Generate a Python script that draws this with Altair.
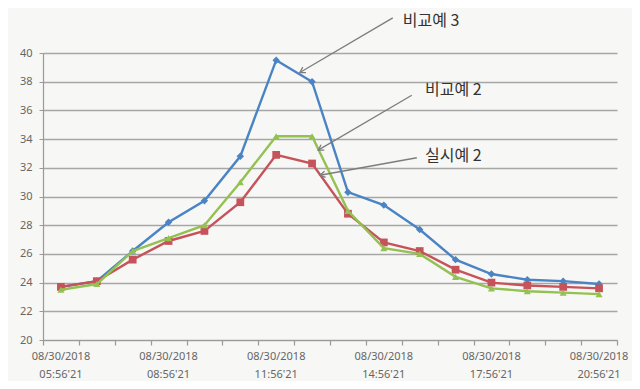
import math
import altair as alt
import pandas as pd

# ---------------- data ----------------
hour_index = list(range(16))  # hourly samples 05:56'21 ... 20:56'21

series_names = ["비교예 3", "실시예 2", "비교예 2"]
blue_vals = [23.7, 24.1, 26.2, 28.2, 29.7, 32.8, 39.5, 38.0, 30.3, 29.4, 27.7, 25.6, 24.6, 24.2, 24.1, 23.9]
red_vals = [23.7, 24.1, 25.6, 26.9, 27.6, 29.6, 32.9, 32.3, 28.8, 26.8, 26.2, 24.9, 24.0, 23.8, 23.7, 23.6]
green_vals = [23.5, 23.9, 26.2, 27.1, 28.0, 31.0, 34.2, 34.2, 29.0, 26.4, 26.0, 24.4, 23.6, 23.4, 23.3, 23.2]

label_index = [0, 3, 6, 9, 12, 15]
label_text = [
    "08/30/2018\n05:56'21",
    "08/30/2018\n08:56'21",
    "08/30/2018\n11:56'21",
    "08/30/2018\n14:56'21",
    "08/30/2018\n17:56'21",
    "08/30/2018\n20:56'21",
]
y_ticks = [20, 22, 24, 26, 28, 30, 32, 34, 36, 38, 40]

ann_text = ["비교예 3", "비교예 2", "실시예 2"]
ann_tx = [9.53, 10.15, 10.15]
ann_ty = [42.2, 37.4, 32.8]
arr_x0 = [9.25, 9.78, 9.92]
arr_y0 = [42.45, 37.06, 32.70]
arr_x1 = [6.66, 7.17, 7.22]
arr_y1 = [38.64, 33.23, 31.48]

# ---------------- layout / style ----------------
W, H = 574, 287
XDOM = [-0.5, 15.5]
YDOM = [20, 40]
colors = ["#4a84c4", "#c6525a", "#93c152"]
shapes = ["diamond", "square", "triangle-up"]
sizes = [55, 60, 50]

xscale = alt.Scale(domain=XDOM, nice=False, zero=False)
yscale = alt.Scale(domain=YDOM, nice=False, zero=False)

xaxis = alt.Axis(values=[k - 0.5 for k in range(17)], labels=False, title=None,
                 grid=False, domainColor="#9a9a9a", domainWidth=1.2,
                 tickColor="#9a9a9a", tickSize=5, tickWidth=1.2)
yaxis = alt.Axis(values=y_ticks, title=None, grid=True, labelOverlap=False,
                 gridColor="#a6a6a6", gridWidth=1.4, domainColor="#9a9a9a",
                 domainWidth=1.2, tickColor="#9a9a9a", tickSize=4,
                 labelPadding=7, labelFontSize=11, labelColor="#666666",
                 labelFont="Noto Sans")


def X(field):
    return alt.X(field, scale=xscale, axis=xaxis)


def Y(field):
    return alt.Y(field, scale=yscale, axis=yaxis)


layers = []

all_vals = [blue_vals, red_vals, green_vals]
for name, vals, col, shp, sz in zip(series_names, all_vals, colors, shapes, sizes):
    df = pd.DataFrame({"i": hour_index, "v": vals, "s": name})
    base = alt.Chart(df).encode(x=X("i:Q"), y=Y("v:Q"))
    layers.append(base.mark_line(color=col, strokeWidth=2.4))
    layers.append(base.mark_point(color=col, shape=shp, size=sz, filled=True, opacity=1))

# x-axis two-line labels
lab_df = pd.DataFrame({"i": label_index, "t": label_text})
xlabels = alt.Chart(lab_df).mark_text(
    lineBreak="\n", lineHeight=18, fontSize=11, color="#666666", font="Noto Sans",
    baseline="middle", align="center"
).encode(x=X("i:Q"), y=alt.value(H + 17), text="t:N")
layers.append(xlabels)

# annotation arrows
def ang(x0, y0, x1, y1):
    dx = (x1 - x0) * W / (XDOM[1] - XDOM[0])
    dy = -(y1 - y0) * H / (YDOM[1] - YDOM[0])
    return math.degrees(math.atan2(dx, -dy)) % 360

arr_df = pd.DataFrame({
    "x0": arr_x0, "y0": arr_y0, "x1": arr_x1, "y1": arr_y1,
    "a": [ang(a, b, c, d) for a, b, c, d in zip(arr_x0, arr_y0, arr_x1, arr_y1)],
})
rules = alt.Chart(arr_df).mark_rule(color="#7d7d7d", strokeWidth=1.3).encode(
    x=X("x0:Q"), y=Y("y0:Q"), x2="x1:Q", y2="y1:Q")
heads = alt.Chart(arr_df).mark_point(
    shape="M -0.6 1 L 0 0 L 0.6 1", filled=False, color="#7d7d7d", strokeWidth=1.3,
    size=110, opacity=1
).encode(x=X("x1:Q"), y=Y("y1:Q"), angle=alt.Angle("a:Q", scale=None))
layers += [rules, heads]

ann_df = pd.DataFrame({"x": ann_tx, "y": ann_ty, "t": ann_text})
ann = alt.Chart(ann_df).mark_text(
    align="left", baseline="middle", fontSize=16, color="#333333", font="Noto Sans CJK KR"
).encode(x=X("x:Q"), y=Y("y:Q"), text="t:N")
layers.append(ann)

chart = alt.layer(*layers).properties(
    width=W, height=H,
    autosize=alt.AutoSizeParams(type="none"),
    padding={"left": 35, "top": 45, "right": 15, "bottom": 41},
    background="#f7f7f5",
).configure_view(stroke=None)

chart.save("out.html", embed_options={"renderer": "svg", "actions": False})
